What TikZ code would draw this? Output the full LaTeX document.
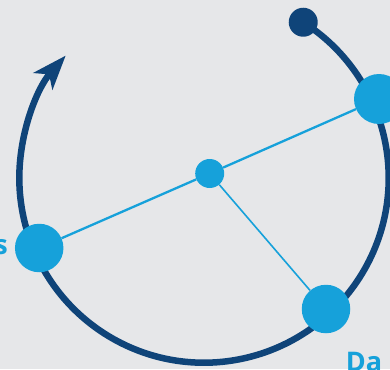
\documentclass[tikz,border=0pt]{standalone}
\usepackage{fontspec}
\newfontfamily\lblfont{Open Sans}
\usetikzlibrary{arrows.meta,positioning}
\definecolor{navy}{HTML}{0F4479}
\definecolor{sky}{HTML}{16A1DA}
\definecolor{paper}{HTML}{E6E7E9}

\begin{document}
\begin{tikzpicture}[x=1pt,y=-1pt,
    dot/.style={circle,fill=sky,inner sep=0pt,minimum size=48.5pt},
    hubdot/.style={circle,fill=sky,inner sep=0pt,minimum size=29pt},
    ring/.style={draw=navy,line width=6.5pt},
    spoke/.style={draw=sky,line width=2.3pt},
    lbl/.style={inner sep=0pt,text=sky,font=\lblfont\bfseries\fontsize{27}{30}\selectfont}]

  \fill[paper] (0,0) rectangle (390,369);
  \clip (0,0) rectangle (390,369);

  % ring round the hub
  \coordinate (c) at (204,178);
  \coordinate (start) at ([shift={(-57.5:184.7)}]c);
  \draw[ring,-{Stealth[length=34pt,width=25pt,inset=9pt]}]
    (start) arc[start angle=-57.5,end angle=221.5,radius=184.7];

  \node[circle,fill=navy,inner sep=0pt,minimum size=29pt] (top) at (start) {};
  \node[hubdot] (hub) at (209.7,173.5) {};
  \node[dot,minimum size=50pt] (r) at (379,99) {};
  \node[dot] (l) at (39.2,248) {};
  \node[dot] (b) at (326,309) {};

  \path[spoke] (hub) -- (r);
  \path[spoke] (hub) -- (l);
  \path[spoke,line width=1.6pt] (hub) -- (b);

  \node[lbl,anchor=base east] (ltext) at (8,254) {s};
  \node[lbl,anchor=base west] (btext) at (345.7,371.3) {Da};
\end{tikzpicture}
\end{document}
